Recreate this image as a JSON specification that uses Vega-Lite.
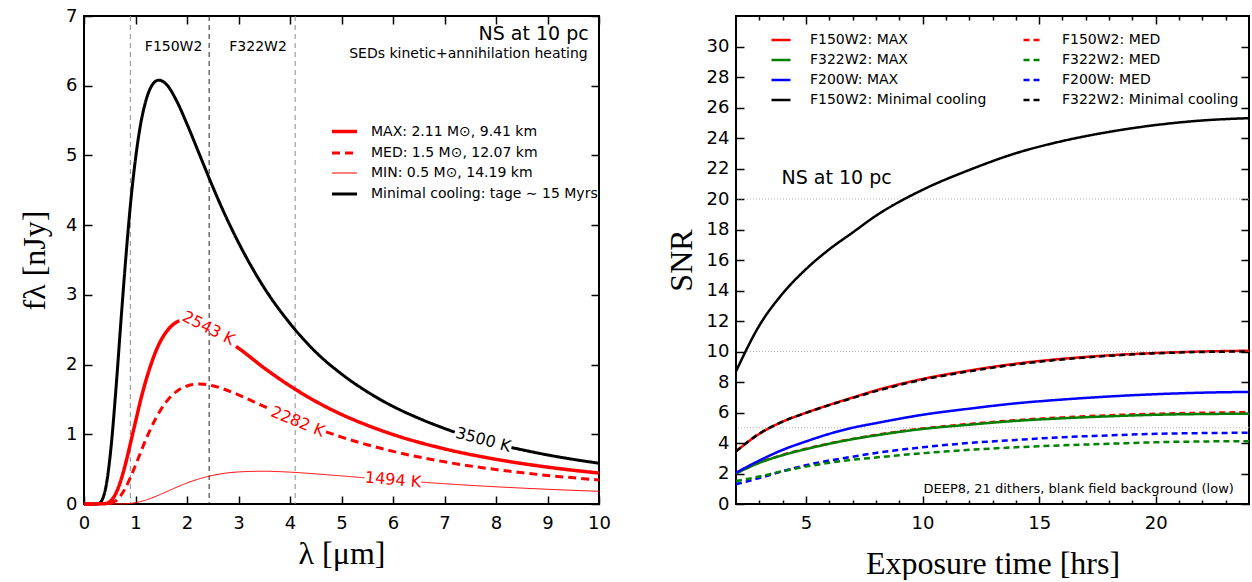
{
  "$schema": "https://vega.github.io/schema/vega-lite/v6.json",
  "background": "white",
  "padding": {"left": 17, "top": 6, "right": 0, "bottom": 0},
  "spacing": 137,
  "bounds": "flush",
  "datasets": {
    "sed": [
      {"lam":0,"f":0,"model":"Minimal cooling","seg":"a"},
      {"lam":0.25,"f":0,"model":"Minimal cooling","seg":"a"},
      {"lam":0.3,"f":0.012,"model":"Minimal cooling","seg":"a"},
      {"lam":0.35,"f":0.055,"model":"Minimal cooling","seg":"a"},
      {"lam":0.4,"f":0.16,"model":"Minimal cooling","seg":"a"},
      {"lam":0.45,"f":0.35,"model":"Minimal cooling","seg":"a"},
      {"lam":0.5,"f":0.64,"model":"Minimal cooling","seg":"a"},
      {"lam":0.55,"f":1.01,"model":"Minimal cooling","seg":"a"},
      {"lam":0.6,"f":1.46,"model":"Minimal cooling","seg":"a"},
      {"lam":0.65,"f":1.94,"model":"Minimal cooling","seg":"a"},
      {"lam":0.7,"f":2.45,"model":"Minimal cooling","seg":"a"},
      {"lam":0.8,"f":3.42,"model":"Minimal cooling","seg":"a"},
      {"lam":0.9,"f":4.28,"model":"Minimal cooling","seg":"a"},
      {"lam":1.0,"f":4.95,"model":"Minimal cooling","seg":"a"},
      {"lam":1.1,"f":5.45,"model":"Minimal cooling","seg":"a"},
      {"lam":1.2,"f":5.78,"model":"Minimal cooling","seg":"a"},
      {"lam":1.3,"f":5.98,"model":"Minimal cooling","seg":"a"},
      {"lam":1.45,"f":6.08,"model":"Minimal cooling","seg":"a"},
      {"lam":1.6,"f":6.02,"model":"Minimal cooling","seg":"a"},
      {"lam":1.8,"f":5.78,"model":"Minimal cooling","seg":"a"},
      {"lam":2.0,"f":5.45,"model":"Minimal cooling","seg":"a"},
      {"lam":2.25,"f":5.0,"model":"Minimal cooling","seg":"a"},
      {"lam":2.5,"f":4.55,"model":"Minimal cooling","seg":"a"},
      {"lam":2.75,"f":4.13,"model":"Minimal cooling","seg":"a"},
      {"lam":3.0,"f":3.75,"model":"Minimal cooling","seg":"a"},
      {"lam":3.5,"f":3.1,"model":"Minimal cooling","seg":"a"},
      {"lam":4.0,"f":2.59,"model":"Minimal cooling","seg":"a"},
      {"lam":4.5,"f":2.18,"model":"Minimal cooling","seg":"a"},
      {"lam":5.0,"f":1.865,"model":"Minimal cooling","seg":"a"},
      {"lam":5.5,"f":1.61,"model":"Minimal cooling","seg":"a"},
      {"lam":6.0,"f":1.4,"model":"Minimal cooling","seg":"a"},
      {"lam":6.5,"f":1.23,"model":"Minimal cooling","seg":"a"},
      {"lam":7.0,"f":1.084,"model":"Minimal cooling","seg":"a"},
      {"lam":7.2,"f":1.03,"model":"Minimal cooling","seg":"a"},
      {"lam":8.3,"f":0.81,"model":"Minimal cooling","seg":"b"},
      {"lam":9.0,"f":0.704,"model":"Minimal cooling","seg":"b"},
      {"lam":9.5,"f":0.64,"model":"Minimal cooling","seg":"b"},
      {"lam":10,"f":0.585,"model":"Minimal cooling","seg":"b"},
      {"lam":0,"f":0,"model":"MAX","seg":"a"},
      {"lam":0.4,"f":0.004,"model":"MAX","seg":"a"},
      {"lam":0.5,"f":0.033,"model":"MAX","seg":"a"},
      {"lam":0.6,"f":0.125,"model":"MAX","seg":"a"},
      {"lam":0.7,"f":0.304,"model":"MAX","seg":"a"},
      {"lam":0.8,"f":0.56,"model":"MAX","seg":"a"},
      {"lam":0.9,"f":0.864,"model":"MAX","seg":"a"},
      {"lam":1.0,"f":1.18,"model":"MAX","seg":"a"},
      {"lam":1.1,"f":1.49,"model":"MAX","seg":"a"},
      {"lam":1.2,"f":1.766,"model":"MAX","seg":"a"},
      {"lam":1.3,"f":2.0,"model":"MAX","seg":"a"},
      {"lam":1.4,"f":2.2,"model":"MAX","seg":"a"},
      {"lam":1.5,"f":2.355,"model":"MAX","seg":"a"},
      {"lam":1.6,"f":2.47,"model":"MAX","seg":"a"},
      {"lam":1.7,"f":2.555,"model":"MAX","seg":"a"},
      {"lam":1.85,"f":2.63,"model":"MAX","seg":"a"},
      {"lam":2.95,"f":2.26,"model":"MAX","seg":"b"},
      {"lam":3.0,"f":2.235,"model":"MAX","seg":"b"},
      {"lam":3.5,"f":1.95,"model":"MAX","seg":"b"},
      {"lam":4.0,"f":1.694,"model":"MAX","seg":"b"},
      {"lam":4.5,"f":1.472,"model":"MAX","seg":"b"},
      {"lam":5.0,"f":1.285,"model":"MAX","seg":"b"},
      {"lam":5.5,"f":1.13,"model":"MAX","seg":"b"},
      {"lam":6.0,"f":0.997,"model":"MAX","seg":"b"},
      {"lam":7.0,"f":0.791,"model":"MAX","seg":"b"},
      {"lam":8.0,"f":0.641,"model":"MAX","seg":"b"},
      {"lam":9.0,"f":0.529,"model":"MAX","seg":"b"},
      {"lam":10,"f":0.444,"model":"MAX","seg":"b"},
      {"lam":0,"f":0,"model":"MED","seg":"a"},
      {"lam":0.5,"f":0.008,"model":"MED","seg":"a"},
      {"lam":0.6,"f":0.038,"model":"MED","seg":"a"},
      {"lam":0.7,"f":0.108,"model":"MED","seg":"a"},
      {"lam":0.8,"f":0.224,"model":"MED","seg":"a"},
      {"lam":0.9,"f":0.378,"model":"MED","seg":"a"},
      {"lam":1.0,"f":0.556,"model":"MED","seg":"a"},
      {"lam":1.1,"f":0.741,"model":"MED","seg":"a"},
      {"lam":1.2,"f":0.923,"model":"MED","seg":"a"},
      {"lam":1.4,"f":1.237,"model":"MED","seg":"a"},
      {"lam":1.6,"f":1.468,"model":"MED","seg":"a"},
      {"lam":1.8,"f":1.616,"model":"MED","seg":"a"},
      {"lam":2.0,"f":1.693,"model":"MED","seg":"a"},
      {"lam":2.25,"f":1.72,"model":"MED","seg":"a"},
      {"lam":2.5,"f":1.696,"model":"MED","seg":"a"},
      {"lam":2.75,"f":1.639,"model":"MED","seg":"a"},
      {"lam":3.0,"f":1.565,"model":"MED","seg":"a"},
      {"lam":3.3,"f":1.466,"model":"MED","seg":"a"},
      {"lam":3.6,"f":1.365,"model":"MED","seg":"a"},
      {"lam":4.7,"f":1.035,"model":"MED","seg":"b"},
      {"lam":5.0,"f":0.96,"model":"MED","seg":"b"},
      {"lam":5.5,"f":0.85,"model":"MED","seg":"b"},
      {"lam":6.0,"f":0.755,"model":"MED","seg":"b"},
      {"lam":7.0,"f":0.605,"model":"MED","seg":"b"},
      {"lam":8.0,"f":0.494,"model":"MED","seg":"b"},
      {"lam":9.0,"f":0.41,"model":"MED","seg":"b"},
      {"lam":10,"f":0.345,"model":"MED","seg":"b"},
      {"lam":0,"f":0,"model":"MIN","seg":"a"},
      {"lam":0.8,"f":0.003,"model":"MIN","seg":"a"},
      {"lam":1.0,"f":0.019,"model":"MIN","seg":"a"},
      {"lam":1.2,"f":0.056,"model":"MIN","seg":"a"},
      {"lam":1.5,"f":0.143,"model":"MIN","seg":"a"},
      {"lam":1.75,"f":0.225,"model":"MIN","seg":"a"},
      {"lam":2.0,"f":0.302,"model":"MIN","seg":"a"},
      {"lam":2.5,"f":0.41,"model":"MIN","seg":"a"},
      {"lam":3.0,"f":0.46,"model":"MIN","seg":"a"},
      {"lam":3.5,"f":0.47,"model":"MIN","seg":"a"},
      {"lam":4.0,"f":0.457,"model":"MIN","seg":"a"},
      {"lam":4.5,"f":0.432,"model":"MIN","seg":"a"},
      {"lam":5.0,"f":0.403,"model":"MIN","seg":"a"},
      {"lam":5.45,"f":0.376,"model":"MIN","seg":"a"},
      {"lam":6.55,"f":0.314,"model":"MIN","seg":"b"},
      {"lam":7.0,"f":0.291,"model":"MIN","seg":"b"},
      {"lam":8.0,"f":0.247,"model":"MIN","seg":"b"},
      {"lam":9.0,"f":0.2115,"model":"MIN","seg":"b"},
      {"lam":10,"f":0.182,"model":"MIN","seg":"b"}
    ],
    "snr": [
      {"t":2,"snr":2.02,"series":"F150W2: MED"},{"t":3,"snr":2.72,"series":"F150W2: MED"},{"t":4,"snr":3.22,"series":"F150W2: MED"},{"t":5,"snr":3.62,"series":"F150W2: MED"},{"t":6,"snr":3.97,"series":"F150W2: MED"},{"t":7,"snr":4.27,"series":"F150W2: MED"},{"t":8,"snr":4.53,"series":"F150W2: MED"},{"t":10,"snr":4.95,"series":"F150W2: MED"},{"t":12,"snr":5.25,"series":"F150W2: MED"},{"t":14,"snr":5.5,"series":"F150W2: MED"},{"t":16,"snr":5.68,"series":"F150W2: MED"},{"t":18,"snr":5.82,"series":"F150W2: MED"},{"t":20,"snr":5.92,"series":"F150W2: MED"},{"t":22,"snr":5.98,"series":"F150W2: MED"},{"t":24,"snr":6.02,"series":"F150W2: MED"},
      {"t":2,"snr":1.3,"series":"F200W: MED"},{"t":3,"snr":1.7,"series":"F200W: MED"},{"t":4,"snr":2.15,"series":"F200W: MED"},{"t":5,"snr":2.55,"series":"F200W: MED"},{"t":6,"snr":2.85,"series":"F200W: MED"},{"t":7,"snr":3.1,"series":"F200W: MED"},{"t":8,"snr":3.35,"series":"F200W: MED"},{"t":10,"snr":3.72,"series":"F200W: MED"},{"t":12,"snr":4.0,"series":"F200W: MED"},{"t":14,"snr":4.2,"series":"F200W: MED"},{"t":16,"snr":4.38,"series":"F200W: MED"},{"t":18,"snr":4.5,"series":"F200W: MED"},{"t":20,"snr":4.6,"series":"F200W: MED"},{"t":22,"snr":4.65,"series":"F200W: MED"},{"t":24,"snr":4.67,"series":"F200W: MED"},
      {"t":2,"snr":1.5,"series":"F322W2: MED"},{"t":3,"snr":1.8,"series":"F322W2: MED"},{"t":4,"snr":2.15,"series":"F322W2: MED"},{"t":5,"snr":2.45,"series":"F322W2: MED"},{"t":6,"snr":2.7,"series":"F322W2: MED"},{"t":7,"snr":2.9,"series":"F322W2: MED"},{"t":8,"snr":3.05,"series":"F322W2: MED"},{"t":10,"snr":3.33,"series":"F322W2: MED"},{"t":12,"snr":3.55,"series":"F322W2: MED"},{"t":14,"snr":3.72,"series":"F322W2: MED"},{"t":16,"snr":3.85,"series":"F322W2: MED"},{"t":18,"snr":3.95,"series":"F322W2: MED"},{"t":20,"snr":4.05,"series":"F322W2: MED"},{"t":22,"snr":4.1,"series":"F322W2: MED"},{"t":24,"snr":4.12,"series":"F322W2: MED"},
      {"t":2,"snr":2.0,"series":"F322W2: MAX"},{"t":3,"snr":2.7,"series":"F322W2: MAX"},{"t":4,"snr":3.2,"series":"F322W2: MAX"},{"t":5,"snr":3.6,"series":"F322W2: MAX"},{"t":6,"snr":3.95,"series":"F322W2: MAX"},{"t":7,"snr":4.25,"series":"F322W2: MAX"},{"t":8,"snr":4.5,"series":"F322W2: MAX"},{"t":10,"snr":4.92,"series":"F322W2: MAX"},{"t":12,"snr":5.2,"series":"F322W2: MAX"},{"t":14,"snr":5.45,"series":"F322W2: MAX"},{"t":16,"snr":5.62,"series":"F322W2: MAX"},{"t":18,"snr":5.75,"series":"F322W2: MAX"},{"t":20,"snr":5.85,"series":"F322W2: MAX"},{"t":22,"snr":5.9,"series":"F322W2: MAX"},{"t":24,"snr":5.92,"series":"F322W2: MAX"},
      {"t":2,"snr":2.05,"series":"F200W: MAX"},{"t":3,"snr":2.85,"series":"F200W: MAX"},{"t":4,"snr":3.55,"series":"F200W: MAX"},{"t":5,"snr":4.1,"series":"F200W: MAX"},{"t":6,"snr":4.6,"series":"F200W: MAX"},{"t":7,"snr":5.0,"series":"F200W: MAX"},{"t":8,"snr":5.3,"series":"F200W: MAX"},{"t":10,"snr":5.85,"series":"F200W: MAX"},{"t":12,"snr":6.25,"series":"F200W: MAX"},{"t":14,"snr":6.6,"series":"F200W: MAX"},{"t":16,"snr":6.85,"series":"F200W: MAX"},{"t":18,"snr":7.05,"series":"F200W: MAX"},{"t":20,"snr":7.2,"series":"F200W: MAX"},{"t":22,"snr":7.3,"series":"F200W: MAX"},{"t":24,"snr":7.35,"series":"F200W: MAX"},
      {"t":2,"snr":3.45,"series":"F150W2: MAX"},{"t":3,"snr":4.6,"series":"F150W2: MAX"},{"t":4,"snr":5.4,"series":"F150W2: MAX"},{"t":5,"snr":5.98,"series":"F150W2: MAX"},{"t":6,"snr":6.5,"series":"F150W2: MAX"},{"t":7,"snr":6.98,"series":"F150W2: MAX"},{"t":8,"snr":7.45,"series":"F150W2: MAX"},{"t":10,"snr":8.2,"series":"F150W2: MAX"},{"t":12,"snr":8.75,"series":"F150W2: MAX"},{"t":14,"snr":9.2,"series":"F150W2: MAX"},{"t":16,"snr":9.52,"series":"F150W2: MAX"},{"t":18,"snr":9.75,"series":"F150W2: MAX"},{"t":20,"snr":9.9,"series":"F150W2: MAX"},{"t":22,"snr":10.0,"series":"F150W2: MAX"},{"t":24,"snr":10.05,"series":"F150W2: MAX"},
      {"t":2,"snr":3.45,"series":"F322W2: Minimal cooling"},{"t":3,"snr":4.62,"series":"F322W2: Minimal cooling"},{"t":4,"snr":5.4,"series":"F322W2: Minimal cooling"},{"t":5,"snr":5.98,"series":"F322W2: Minimal cooling"},{"t":6,"snr":6.48,"series":"F322W2: Minimal cooling"},{"t":7,"snr":6.95,"series":"F322W2: Minimal cooling"},{"t":8,"snr":7.4,"series":"F322W2: Minimal cooling"},{"t":10,"snr":8.15,"series":"F322W2: Minimal cooling"},{"t":12,"snr":8.7,"series":"F322W2: Minimal cooling"},{"t":14,"snr":9.15,"series":"F322W2: Minimal cooling"},{"t":16,"snr":9.48,"series":"F322W2: Minimal cooling"},{"t":18,"snr":9.72,"series":"F322W2: Minimal cooling"},{"t":20,"snr":9.88,"series":"F322W2: Minimal cooling"},{"t":22,"snr":9.97,"series":"F322W2: Minimal cooling"},{"t":24,"snr":10.0,"series":"F322W2: Minimal cooling"},
      {"t":2,"snr":8.7,"series":"F150W2: Minimal cooling"},{"t":3,"snr":11.7,"series":"F150W2: Minimal cooling"},{"t":4,"snr":13.8,"series":"F150W2: Minimal cooling"},{"t":5,"snr":15.4,"series":"F150W2: Minimal cooling"},{"t":6,"snr":16.7,"series":"F150W2: Minimal cooling"},{"t":7,"snr":17.8,"series":"F150W2: Minimal cooling"},{"t":8,"snr":18.9,"series":"F150W2: Minimal cooling"},{"t":10,"snr":20.6,"series":"F150W2: Minimal cooling"},{"t":12,"snr":21.9,"series":"F150W2: Minimal cooling"},{"t":14,"snr":23.0,"series":"F150W2: Minimal cooling"},{"t":16,"snr":23.8,"series":"F150W2: Minimal cooling"},{"t":18,"snr":24.4,"series":"F150W2: Minimal cooling"},{"t":20,"snr":24.85,"series":"F150W2: Minimal cooling"},{"t":22,"snr":25.15,"series":"F150W2: Minimal cooling"},{"t":24,"snr":25.3,"series":"F150W2: Minimal cooling"}
    ]
  },
  "hconcat": [
    {
      "width": 515,
      "height": 488,
      "resolve": {"axis": {"x": "independent", "y": "independent"}},
      "layer": [
        {
          "data": {"values": [{"lam": 0.9}, {"lam": 4.1}]},
          "mark": {"type": "rule", "color": "#8a8a8a", "strokeDash": [5, 4], "strokeWidth": 1},
          "encoding": {
            "x": {"field": "lam", "type": "quantitative", "scale": {"domain": [0, 10], "nice": false},
                  "axis": {"orient": "top", "labels": false, "title": null, "values": [0,1,2,3,4,5,6,7,8,9,10]}}
          }
        },
        {
          "data": {"values": [{"lam": 2.43}]},
          "mark": {"type": "rule", "color": "#222222", "strokeDash": [5, 4], "strokeWidth": 1},
          "encoding": {"x": {"field": "lam", "type": "quantitative", "axis": null}}
        },
        {
          "data": {"name": "sed"},
          "mark": {"type": "line", "interpolate": "monotone"},
          "encoding": {
            "x": {"field": "lam", "type": "quantitative",
                  "axis": {"orient": "bottom", "values": [0,1,2,3,4,5,6,7,8,9,10], "title": "λ [μm]", "labelPadding": 18, "titlePadding": 6}},
            "y": {"field": "f", "type": "quantitative", "scale": {"domain": [0, 7], "nice": false},
                  "axis": {"orient": "left", "values": [0,1,2,3,4,5,6,7], "title": "fλ [nJy]", "labelPadding": 15, "titlePadding": 14}},
            "color": {"field": "model", "type": "nominal",
                      "scale": {"domain": ["MAX", "MED", "MIN", "Minimal cooling"], "range": ["#ff0000", "#ff0000", "#ff0000", "#000000"]},
                      "legend": {"title": null, "orient": "none", "legendX": 246, "legendY": 101, "symbolType": "stroke", "symbolSize": 625, "labelFontSize": 14, "labelFont": "DejaVu Sans", "labelColor": "black", "labelOffset": 12, "labelLimit": 400, "rowPadding": -4,
                                 "labelExpr": "datum.label == 'MAX' ? 'MAX: 2.11 M⊙, 9.41 km' : datum.label == 'MED' ? 'MED: 1.5 M⊙, 12.07 km' : datum.label == 'MIN' ? 'MIN: 0.5 M⊙, 14.19 km' : 'Minimal cooling: tage ∼ 15 Myrs'"}},
            "strokeDash": {"field": "model", "type": "nominal",
                      "scale": {"domain": ["MAX", "MED", "MIN", "Minimal cooling"], "range": [[1, 0], [8, 5], [1, 0], [1, 0]]},
                      "legend": {"title": null, "orient": "none", "legendX": 246, "legendY": 101, "symbolType": "stroke", "symbolSize": 625, "labelFontSize": 14, "labelFont": "DejaVu Sans", "labelColor": "black", "labelOffset": 12, "labelLimit": 400, "rowPadding": -4,
                                 "labelExpr": "datum.label == 'MAX' ? 'MAX: 2.11 M⊙, 9.41 km' : datum.label == 'MED' ? 'MED: 1.5 M⊙, 12.07 km' : datum.label == 'MIN' ? 'MIN: 0.5 M⊙, 14.19 km' : 'Minimal cooling: tage ∼ 15 Myrs'"}},
            "strokeWidth": {"field": "model", "type": "nominal",
                      "scale": {"type": "ordinal", "domain": ["MAX", "MED", "MIN", "Minimal cooling"], "range": [3.5, 3, 1, 3]},
                      "legend": {"title": null, "orient": "none", "legendX": 246, "legendY": 101, "symbolType": "stroke", "symbolSize": 625, "labelFontSize": 14, "labelFont": "DejaVu Sans", "labelColor": "black", "labelOffset": 12, "labelLimit": 400, "rowPadding": -4,
                                 "labelExpr": "datum.label == 'MAX' ? 'MAX: 2.11 M⊙, 9.41 km' : datum.label == 'MED' ? 'MED: 1.5 M⊙, 12.07 km' : datum.label == 'MIN' ? 'MIN: 0.5 M⊙, 14.19 km' : 'Minimal cooling: tage ∼ 15 Myrs'"}},
            "detail": {"field": "seg", "type": "nominal"}
          }
        },
        {
          "data": {"values": [{"lam": 9.8, "f": 6.74, "txt": "NS at 10 pc"}]},
          "mark": {"type": "text", "align": "right", "baseline": "middle", "fontSize": 19},
          "encoding": {
            "x": {"field": "lam", "type": "quantitative", "axis": null},
            "y": {"field": "f", "type": "quantitative", "axis": {"orient": "right", "labels": false, "title": null, "values": [0,1,2,3,4,5,6,7]}},
            "text": {"field": "txt"}
          }
        },
        {
          "data": {"values": [{"lam": 9.78, "f": 6.46, "txt": "SEDs kinetic+annihilation heating"}]},
          "mark": {"type": "text", "align": "right", "baseline": "middle", "fontSize": 14},
          "encoding": {
            "x": {"field": "lam", "type": "quantitative", "axis": null},
            "y": {"field": "f", "type": "quantitative", "axis": null},
            "text": {"field": "txt"}
          }
        },
        {
          "data": {"values": [{"lam": 1.74, "f": 6.56, "txt": "F150W2"}, {"lam": 3.38, "f": 6.56, "txt": "F322W2"}]},
          "mark": {"type": "text", "align": "center", "baseline": "middle", "fontSize": 14},
          "encoding": {
            "x": {"field": "lam", "type": "quantitative", "axis": null},
            "y": {"field": "f", "type": "quantitative", "axis": null},
            "text": {"field": "txt"}
          }
        },
        {
          "data": {"values": [{"lam": 2.42, "f": 2.52, "txt": "2543 K"}]},
          "mark": {"type": "text", "align": "center", "baseline": "middle", "fontSize": 16, "angle": 27, "color": "#ff0000"},
          "encoding": {"x": {"field": "lam", "type": "quantitative", "axis": null}, "y": {"field": "f", "type": "quantitative", "axis": null}, "text": {"field": "txt"}}
        },
        {
          "data": {"values": [{"lam": 4.15, "f": 1.18, "txt": "2282 K"}]},
          "mark": {"type": "text", "align": "center", "baseline": "middle", "fontSize": 16, "angle": 22, "color": "#ff0000"},
          "encoding": {"x": {"field": "lam", "type": "quantitative", "axis": null}, "y": {"field": "f", "type": "quantitative", "axis": null}, "text": {"field": "txt"}}
        },
        {
          "data": {"values": [{"lam": 6.0, "f": 0.345, "txt": "1494 K"}]},
          "mark": {"type": "text", "align": "center", "baseline": "middle", "fontSize": 16, "angle": 5, "color": "#ff0000"},
          "encoding": {"x": {"field": "lam", "type": "quantitative", "axis": null}, "y": {"field": "f", "type": "quantitative", "axis": null}, "text": {"field": "txt"}}
        },
        {
          "data": {"values": [{"lam": 7.75, "f": 0.92, "txt": "3500 K"}]},
          "mark": {"type": "text", "align": "center", "baseline": "middle", "fontSize": 16, "angle": 15, "color": "#000000"},
          "encoding": {"x": {"field": "lam", "type": "quantitative", "axis": null}, "y": {"field": "f", "type": "quantitative", "axis": null}, "text": {"field": "txt"}}
        }
      ]
    },
    {
      "width": 513,
      "height": 488,
      "resolve": {"axis": {"x": "independent", "y": "independent"}},
      "layer": [
        {
          "data": {"values": [{"v": 5}, {"v": 10}, {"v": 20}]},
          "mark": {"type": "rule", "color": "#b5b5b5", "strokeDash": [1, 2], "strokeWidth": 1},
          "encoding": {
            "y": {"field": "v", "type": "quantitative", "scale": {"domain": [0, 32], "nice": false},
                  "axis": {"orient": "right", "labels": false, "title": null, "values": [0,2,4,6,8,10,12,14,16,18,20,22,24,26,28,30]}}
          }
        },
        {
          "data": {"name": "snr"},
          "mark": {"type": "line", "strokeWidth": 2.5, "interpolate": "monotone"},
          "encoding": {
            "x": {"field": "t", "type": "quantitative", "scale": {"domain": [2, 24], "nice": false, "zero": false},
                  "axis": {"orient": "bottom", "values": [5, 10, 15, 20], "title": "Exposure time [hrs]", "labelPadding": 18, "titlePadding": 16}},
            "y": {"field": "snr", "type": "quantitative",
                  "axis": {"orient": "left", "values": [0,2,4,6,8,10,12,14,16,18,20,22,24,26,28,30], "title": "SNR", "labelPadding": 15, "titlePadding": 8}},
            "color": {"field": "series", "type": "nominal",
                      "scale": {"domain": ["F150W2: MAX", "F322W2: MAX", "F200W: MAX", "F150W2: Minimal cooling", "F150W2: MED", "F322W2: MED", "F200W: MED", "F322W2: Minimal cooling"],
                                "range": ["#ff0000", "#008000", "#0000ff", "#000000", "#ff0000", "#008000", "#0000ff", "#000000"]},
                      "legend": {"title": null, "orient": "none", "legendX": 34, "legendY": 13, "columns": 2, "columnPadding": 31, "symbolType": "stroke", "symbolSize": 361, "symbolStrokeWidth": 2.5, "labelFontSize": 14, "labelFont": "DejaVu Sans", "labelColor": "black", "labelOffset": 18, "labelLimit": 400, "rowPadding": 2}},
            "strokeDash": {"field": "series", "type": "nominal",
                      "scale": {"domain": ["F150W2: MAX", "F322W2: MAX", "F200W: MAX", "F150W2: Minimal cooling", "F150W2: MED", "F322W2: MED", "F200W: MED", "F322W2: Minimal cooling"],
                                "range": [[1, 0], [1, 0], [1, 0], [1, 0], [6, 4], [6, 4], [6, 4], [6, 4]]},
                      "legend": {"title": null, "orient": "none", "legendX": 34, "legendY": 13, "columns": 2, "columnPadding": 31, "symbolType": "stroke", "symbolSize": 361, "symbolStrokeWidth": 2.5, "labelFontSize": 14, "labelFont": "DejaVu Sans", "labelColor": "black", "labelOffset": 18, "labelLimit": 400, "rowPadding": 2}}
          }
        },
        {
          "data": {"values": [{"t": 3.95, "snr": 21.4, "txt": "NS at 10 pc"}]},
          "mark": {"type": "text", "align": "left", "baseline": "middle", "fontSize": 19},
          "encoding": {
            "x": {"field": "t", "type": "quantitative", "axis": {"orient": "top", "labels": false, "title": null, "values": [5, 10, 15, 20]}},
            "y": {"field": "snr", "type": "quantitative", "axis": null},
            "text": {"field": "txt"}
          }
        },
        {
          "data": {"values": [{"t": 23.35, "snr": 0.99, "txt": "DEEP8, 21 dithers, blank field background (low)"}]},
          "mark": {"type": "text", "align": "right", "baseline": "middle", "fontSize": 13},
          "encoding": {
            "x": {"field": "t", "type": "quantitative", "axis": {"orient": "bottom", "labels": false, "title": null, "tickSize": -4, "values": [3,4,6,7,8,9,11,12,13,14,16,17,18,19,21,22,23]}},
            "y": {"field": "snr", "type": "quantitative", "axis": null},
            "text": {"field": "txt"}
          }
        },
        {
          "data": {"values": [{"t": 23.35, "snr": 0.99, "txt": ""}]},
          "mark": {"type": "text"},
          "encoding": {
            "x": {"field": "t", "type": "quantitative", "axis": {"orient": "top", "labels": false, "title": null, "tickSize": -4, "values": [3,4,6,7,8,9,11,12,13,14,16,17,18,19,21,22,23]}},
            "y": {"field": "snr", "type": "quantitative", "axis": null},
            "text": {"field": "txt"}
          }
        }
      ]
    }
  ],
  "resolve": {
    "scale": {"color": "independent", "strokeDash": "independent", "strokeWidth": "independent"},
    "legend": {"color": "independent", "strokeDash": "independent", "strokeWidth": "independent"}
  },
  "config": {
    "view": {"stroke": "black", "strokeWidth": 2},
    "axis": {
      "grid": false, "domain": false, "ticks": true, "tickColor": "black", "tickWidth": 1.5, "tickSize": -8,
      "labelFont": "DejaVu Sans", "labelFontSize": 18, "labelColor": "black", "labelFlush": false, "labelOverlap": false,
      "titleFont": "Liberation Serif", "titleFontWeight": "normal", "titleFontSize": 32, "titleColor": "black"
    },
    "legend": {"padding": 0},
    "text": {"font": "DejaVu Sans", "color": "black"}
  }
}
